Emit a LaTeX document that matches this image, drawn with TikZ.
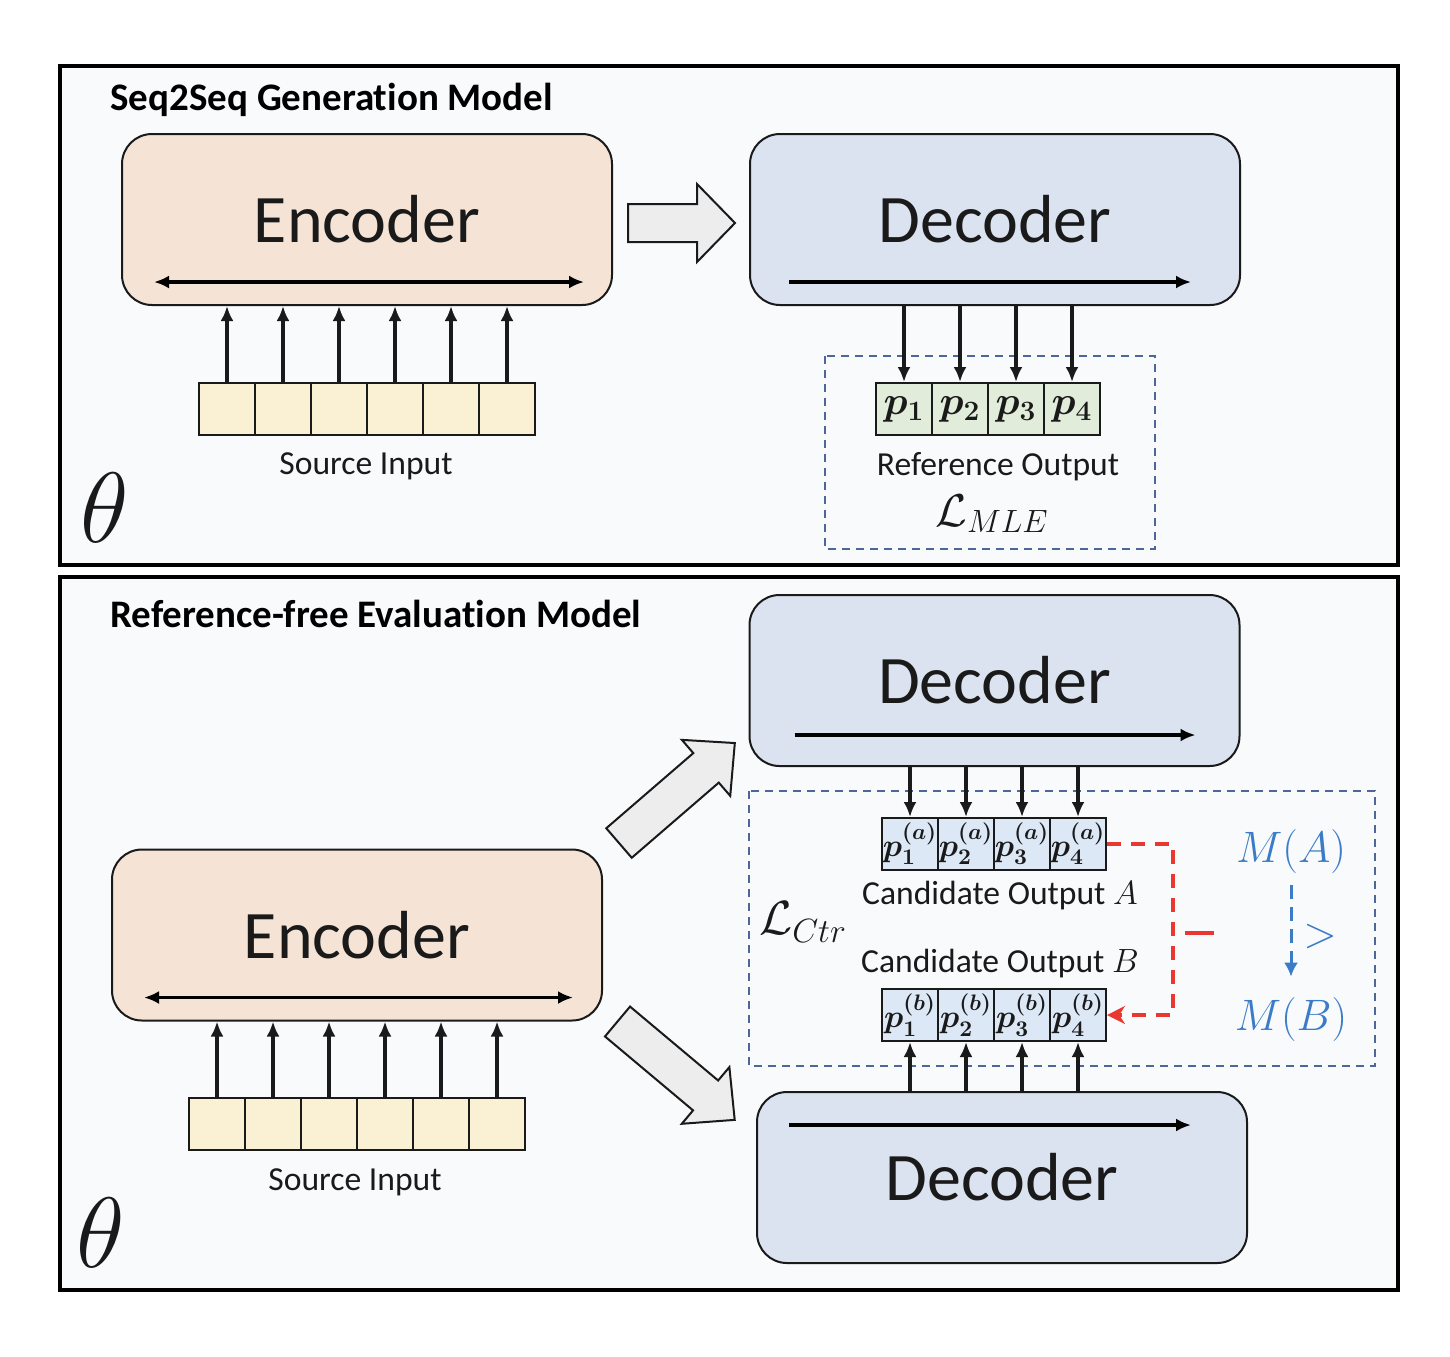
\documentclass[tikz,border=0pt]{standalone}
\usepackage{fix-cm}
\usepackage{amsmath,amssymb,bm}
\usepackage[no-math]{fontspec}
\setmainfont{Carlito}[Ligatures=NoCommon]
\usetikzlibrary{arrows.meta,calc,positioning}

\definecolor{encfill}{RGB}{245,228,214}
\definecolor{decfill}{RGB}{220,227,240}
\definecolor{srcfill}{RGB}{250,240,212}
\definecolor{reffill}{RGB}{226,236,218}
\definecolor{candfill}{RGB}{221,232,246}
\definecolor{panelfill}{RGB}{249,250,252}
\definecolor{dashblue}{RGB}{78,102,156}
\definecolor{mblue}{RGB}{58,124,200}
\definecolor{lossred}{RGB}{232,56,47}
\definecolor{blockgray}{RGB}{237,237,237}
\definecolor{txt}{RGB}{26,26,26}

\begin{document}
\begin{tikzpicture}[x=0.5pt,y=-0.5pt,>={Latex[length=7.5pt,width=6.5pt]},text=txt]
    \tikzstyle{panel}=[draw=black, line width=1.75pt, fill=panelfill]
    \tikzstyle{coder}=[draw=txt, line width=1pt, rounded corners=15pt, minimum width=245pt, minimum height=85.5pt, font=\fontsize{34}{40}\selectfont]
    \tikzstyle{enc}=[coder, fill=encfill]
    \tikzstyle{dec}=[coder, fill=decfill]
    \tikzstyle{cell}=[draw=txt, line width=1pt, minimum width=28pt, minimum height=26pt, inner sep=0pt]
    \tikzstyle{srccell}=[cell, fill=srcfill]
    \tikzstyle{refcell}=[cell, fill=reffill, font=\fontsize{20}{20}\selectfont\boldmath]
    \tikzstyle{candcell}=[cell, fill=candfill, font=\fontsize{16}{16}\selectfont\boldmath]
    \tikzstyle{arr}=[->, line width=1.6pt, draw=txt]
    \tikzstyle{flow}=[arr]
    \tikzstyle{lbl}=[font=\fontsize{16.8}{20}\selectfont, inner sep=0pt]
    \tikzstyle{title}=[font=\fontsize{19.5}{22}\selectfont\bfseries, text=black, inner sep=0pt]
    \tikzstyle{thetalbl}=[font=\fontsize{50}{50}\selectfont, inner sep=0pt]
    \tikzstyle{loss}=[inner sep=0pt]
    \tikzstyle{blockarrow}=[draw=txt, line width=1pt, fill=blockgray]
    \tikzstyle{dashbox}=[draw=dashblue, line width=0.8pt, dash pattern=on 4pt off 3pt]
    \tikzstyle{redarr}=[draw=lossred, line width=2pt, dash pattern=on 7pt off 5pt, -{Stealth[length=9pt,width=9pt]}]
    \tikzstyle{mtext}=[text=mblue, font=\fontsize{22}{22}\selectfont, inner sep=2pt]
    \tikzstyle{bluearr}=[draw=mblue, line width=1.5pt, dash pattern=on 7pt off 4pt, -{Latex[length=7pt,width=7pt]}]

    \useasboundingbox (0,0) rectangle (1450,1356);

    % Seq2Seq generation model
    \draw[panel] (60,66) rectangle (1398,565);
    \node[title, anchor=base west] (title1) at (110,110) {Seq2Seq Generation Model};

    \node[enc] (enc1) at (367,219.5) {Encoder};
    \draw[<->, line width=1.6pt] ([shift={(33,-24)}]enc1.south west) -- ([shift={(-29,-24)}]enc1.south east);
    \foreach \i in {1,...,6}
        \node[srccell] (src\i) at ({171+56*\i},409) {};
    \foreach \i in {1,...,6}
        \draw[flow] (src\i.north) -- (src\i.north |- enc1.south);
    \node[lbl, anchor=base] (srclbl1) at (366,474) {Source Input};

    \draw[blockarrow, shift={(628,223)}] (0,-19) -- (69,-19) -- (69,-39) -- (107,0) -- (69,39) -- (69,19) -- (0,19) -- cycle;

    \node[dec] (dec1) at (995,219.5) {Decoder};
    \draw[->, line width=1.6pt] ([shift={(40,-24)}]dec1.south west) -- ([shift={(-50,-24)}]dec1.south east);

    \draw[dashbox] (825,356) rectangle (1155,549);
    \foreach \i in {1,...,4}
        \node[refcell] (ref\i) at ({848+56*\i},409) {$p_{\i}$};
    \foreach \i in {1,...,4}
        \draw[flow] (ref\i.north |- dec1.south) -- (ref\i.north);
    \node[lbl, anchor=base] (reflbl) at (998,475) {Reference Output};
    \node[loss, anchor=base, font=\fontsize{23}{23}\selectfont] (mle) at (992,526) {$\mathcal{L}_{MLE}$};
    \node[thetalbl, anchor=base] (theta1) at (105,542) {$\theta$};

    % reference-free evaluation model
    \draw[panel] (60,577) rectangle (1398,1290);
    \node[title, anchor=base west] (title2) at (110,627) {Reference-free Evaluation Model};

    \node[enc] (enc2) at (357,935) {Encoder};
    \draw[<->, line width=1.6pt] ([shift={(33,-24)}]enc2.south west) -- ([shift={(-30,-24)}]enc2.south east);
    \foreach \i in {1,...,6}
        \node[srccell] (in\i) at ({161+56*\i},1123.5) {};
    \foreach \i in {1,...,6}
        \draw[flow] (in\i.north) -- (in\i.north |- enc2.south);
    \node[lbl, anchor=base] (srclbl2) at (355,1190) {Source Input};
    \node[thetalbl, anchor=base] (theta2) at (101,1267) {$\theta$};

    \draw[blockarrow, shift={(619,843)}, rotate=40.8] (0,-19.5) -- (115,-19.5) -- (115,-37) -- (153,0) -- (115,37) -- (115,19.5) -- (0,19.5) -- cycle;
    \draw[blockarrow, shift={(617.5,1021.5)}, rotate=-40] (0,-19.5) -- (115,-19.5) -- (115,-37) -- (153,0) -- (115,37) -- (115,19.5) -- (0,19.5) -- cycle;

    \node[dec] (dec2) at (994.5,680.5) {Decoder};
    \draw[->, line width=1.6pt] ([shift={(46,-32)}]dec2.south west) -- ([shift={(-45,-32)}]dec2.south east);
    \node[dec] (dec3) at (1002,1177.5) {Decoder};
    \draw[->, line width=1.6pt] ([shift={(33,34)}]dec3.north west) -- ([shift={(-57,34)}]dec3.north east);

    \draw[dashbox] (749,791) rectangle (1375,1066);
    \foreach \i in {1,...,4}
        \node[candcell] (ca\i) at ({854+56*\i},844) {$p_{\i}^{(a)}$};
    \foreach \i in {1,...,4}
        \node[candcell] (cb\i) at ({854+56*\i},1015) {$p_{\i}^{(b)}$};
    \foreach \i in {1,...,4}
        \draw[flow] (ca\i.north |- dec2.south) -- (ca\i.north);
    \foreach \i in {1,...,4}
        \draw[flow] (cb\i.south |- dec3.north) -- (cb\i.south);
    \node[lbl, anchor=base] (candA) at (1000,904) {Candidate Output $A$};
    \node[lbl, anchor=base] (candB) at (1000,972) {Candidate Output $B$};
    \node[loss, font=\fontsize{24}{24}\selectfont] (ctr) at (803,922) {$\mathcal{L}_{Ctr}$};

    % ranking
    \coordinate (rturn) at (1173,930);
    \draw[redarr] (ca4.east) -- (ca4.east -| rturn) -- (cb4.east -| rturn) -- (cb4.east);
    \coordinate (rbar1) at (1185,933);
    \coordinate (rbar2) at (1214,933);
    \draw[draw=lossred, line width=2pt] (rbar1) -- (rbar2);
    \node[mtext, anchor=base] (ma) at (1291,862) {$M(A)$};
    \node[mtext, anchor=base] (mb) at (1291,1030) {$M(B)$};
    \node[mtext] (gt) at (1320,936) {$>$};
    \draw[bluearr, shorten <=4pt, shorten >=8pt] (ma.south) -- (mb.north);
\end{tikzpicture}
\end{document}
